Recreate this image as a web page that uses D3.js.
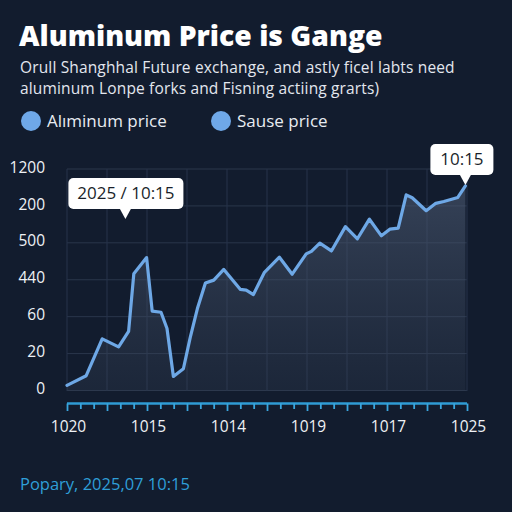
<!DOCTYPE html>
<html>
<head>
<meta charset="utf-8">
<script src="https://cdn.jsdelivr.net/npm/d3@7"></script>
<style>
  html, body { margin: 0; padding: 0; background: #121c2e; }
  svg { display: block; font-family: "Open Sans", "Noto Sans", sans-serif; }
</style>
</head>
<body>
<div id="chart"></div>
<script>
// Chart data
var pointX = [0, 0.48, 0.88, 1.29, 1.54, 1.67, 1.99, 2.13, 2.35, 2.5, 2.66, 2.91, 3.08, 3.26, 3.46, 3.67, 3.92,
              4.33, 4.48, 4.66, 4.93, 5.31, 5.63, 5.98, 6.11, 6.32, 6.61, 6.96, 7.26, 7.56, 7.86, 8.07, 8.28,
              8.48, 8.63, 8.98, 9.22, 9.42, 9.77, 9.96];
var priceValues = [14, 40, 140, 118, 160, 316, 360, 215, 212, 168, 38, 59, 143, 222, 291, 299, 328,
                   274, 272, 260, 319, 361, 315, 370, 377, 399, 378, 444, 411, 464, 419, 437, 440,
                   530, 522, 487, 507, 512, 523, 554];
var yTickValues = [0, 100, 200, 300, 400, 500, 600];
var yTickLabels = ["0", "20", "60", "440", "500", "200", "1200"];
var xLabelValues = [0, 2, 4, 6, 8, 10];
var xTickLabels = ["1020", "1015", "1014", "1019", "1017", "1025"];
var legendLabels = ["Alıminum price", "Sause price"];
var calloutX = [1.46, 9.96];
var calloutY = [462, 554];
var calloutText = ["2025 / 10:15", "10:15"];

var W = 512, H = 512;
var margin = { top: 169, right: 45, bottom: 121, left: 67 },
    width = W - margin.left - margin.right,
    height = H - margin.top - margin.bottom;

var svg = d3.select("#chart")
    .append("svg")
    .attr("width", W)
    .attr("height", H);

svg.append("rect").attr("width", W).attr("height", H).attr("fill", "#121c2e");

// Title and subtitle
svg.append("text")
    .attr("x", 19).attr("y", 46)
    .attr("fill", "#ffffff")
    .style("font-size", "28.3px")
    .style("font-weight", "800")
    .text("Aluminum Price is Gange");

var sub = ["Orull Shanghhal Future exchange, and astly ficel labts need",
           "aluminum Lonpe forks and Fisning actiing grarts)"];
svg.selectAll(".sub")
    .data(sub)
    .enter()
    .append("text")
    .attr("class", "sub")
    .attr("x", 20)
    .attr("y", function(d, i) { return 73 + i * 21; })
    .attr("fill", "#e3e7ee")
    .style("font-size", "15.5px")
    .style("letter-spacing", "0.15px")
    .text(function(d) { return d; });

// Legend
var legend = svg.selectAll(".legend")
    .data(legendLabels)
    .enter()
    .append("g")
    .attr("class", "legend")
    .attr("transform", function(d, i) { return "translate(" + (31 + i * 190) + ",121)"; });

legend.append("circle").attr("r", 10).attr("fill", "#6fa8e8");
legend.append("text")
    .attr("x", 16).attr("y", 6)
    .attr("fill", "#e8ecf2")
    .style("font-size", "17px")
    .text(function(d) { return d; });

var g = svg.append("g")
    .attr("transform", "translate(" + margin.left + "," + margin.top + ")");

var x = d3.scaleLinear().domain([0, 10]).range([0, width]);
var y = d3.scaleLinear().domain([0, 600]).range([height - 0.5, 0]);

// Grid
g.append("g")
    .selectAll("line")
    .data(yTickValues)
    .enter()
    .append("line")
    .attr("x1", 0).attr("x2", width)
    .attr("y1", function(d) { return y(d); })
    .attr("y2", function(d) { return y(d); })
    .attr("stroke", "#2a364b")
    .attr("stroke-width", 1);

g.append("g")
    .selectAll("line")
    .data(d3.range(0, 11))
    .enter()
    .append("line")
    .attr("x1", function(d) { return x(d); })
    .attr("x2", function(d) { return x(d); })
    .attr("y1", 0).attr("y2", height)
    .attr("stroke", "#26324a")
    .attr("stroke-width", 1);

// Y labels
g.append("g")
    .call(d3.axisLeft(y).tickValues(yTickValues).tickSize(0).tickPadding(22)
        .tickFormat(function(d, i) { return yTickLabels[i]; }))
    .call(function(a) { a.select(".domain").remove(); })
    .selectAll("text")
    .attr("fill", "#eef1f5")
    .attr("dy", "0.2em")
    .style("font-size", "15.5px")
    .style("font-family", "'Open Sans', sans-serif");

// Area + line
var defs = svg.append("defs");
var grad = defs.append("linearGradient")
    .attr("id", "fillGrad")
    .attr("x1", 0).attr("y1", 0).attr("x2", 0).attr("y2", 1);
grad.append("stop").attr("offset", "0%").attr("stop-color", "#4d5b73").attr("stop-opacity", 0.6);
grad.append("stop").attr("offset", "100%").attr("stop-color", "#3a475c").attr("stop-opacity", 0.25);

var pts = pointX.map(function(d, i) { return [d, priceValues[i]]; });

g.append("path")
    .datum(pts)
    .attr("fill", "url(#fillGrad)")
    .attr("d", d3.area()
        .x(function(d) { return x(d[0]); })
        .y0(y(0))
        .y1(function(d) { return y(d[1]); }));

g.append("path")
    .datum(pts)
    .attr("fill", "none")
    .attr("stroke", "#6ea8e6")
    .attr("stroke-width", 3.2)
    .attr("stroke-linejoin", "round")
    .attr("stroke-linecap", "round")
    .attr("d", d3.line()
        .x(function(d) { return x(d[0]); })
        .y(function(d) { return y(d[1]); }));

// X axis
var xAxisG = g.append("g")
    .attr("transform", "translate(0," + (height + 12.5) + ")");

xAxisG.call(d3.axisBottom(x).tickValues(d3.range(0, 30.5).map(function(d) { return d / 3; }))
        .tickSize(5).tickFormat(""))
    .call(function(a) {
        a.select(".domain").attr("stroke", "#2f9bd4").attr("stroke-width", 2.5)
            .attr("d", "M0,0H" + width);
        a.selectAll(".tick line").attr("stroke", "#3aa6de").attr("stroke-width", 1.8)
            .attr("y2", function(d) { return Math.abs(d - Math.round(d)) < 1e-6 ? 7.5 : 5.5; });
    });

g.append("g")
    .selectAll("text")
    .data(xLabelValues)
    .enter()
    .append("text")
    .attr("x", function(d) { return x(d) + 1.5; })
    .attr("y", height + 41)
    .attr("text-anchor", "middle")
    .attr("fill", "#eef1f5")
    .style("font-size", "15.5px")
    .text(function(d, i) { return xTickLabels[i]; });

// Callouts
var callouts = g.selectAll(".callout")
    .data(calloutText)
    .enter()
    .append("g")
    .attr("class", "callout")
    .attr("transform", function(d, i) { return "translate(" + x(calloutX[i]) + "," + y(calloutY[i]) + ")"; });

callouts.each(function(d, i) {
    var c = d3.select(this);
    var bw = i === 0 ? 115 : 63, bh = 31;
    var off = i === 0 ? -57 : -35;
    c.append("rect")
        .attr("x", off).attr("y", -bh - 11)
        .attr("width", bw).attr("height", bh)
        .attr("rx", 5)
        .attr("fill", "#ffffff");
    c.append("path")
        .attr("d", "M-6,-12L0,-1L6,-12Z")
        .attr("fill", "#ffffff");
    c.append("text")
        .attr("x", off + bw / 2).attr("y", -bh / 2 - 5.5)
        .attr("text-anchor", "middle")
        .attr("fill", "#1a1f2a")
        .style("font-size", "17px")
        .text(d);
});

// Footer
svg.append("text")
    .attr("x", 20).attr("y", 490)
    .attr("fill", "#2f9fd8")
    .style("font-size", "16.5px")
    .text("Popary, 2025,07 10:15");
</script>
</body>
</html>
